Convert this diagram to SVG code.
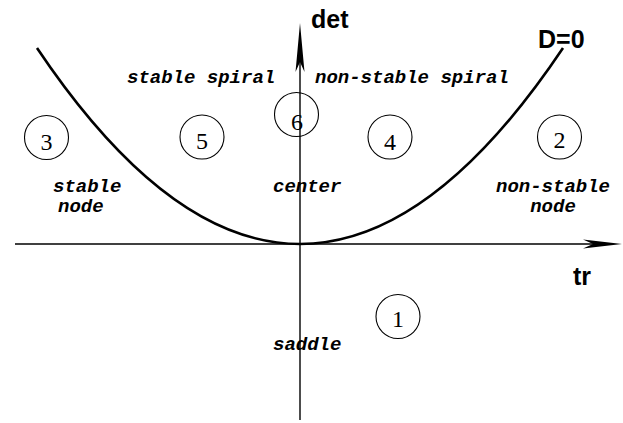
<svg xmlns="http://www.w3.org/2000/svg" width="623" height="423" viewBox="0 0 623 423">
<style>
.lbl{font-family:"Liberation Mono","Courier New",monospace;font-weight:bold;font-style:italic;font-size:19px;fill:#000}
.ax{font-family:"Liberation Sans",Arial,sans-serif;font-weight:bold;font-size:25px;fill:#000}
.num{font-family:"Liberation Serif","Times New Roman",serif;font-size:24px;fill:#000;text-anchor:middle}
.ring{fill:none;stroke:#000;stroke-width:1.1}
</style>
<rect width="623" height="423" fill="#fff"/>
<g id="connectors">
<path id="curve" d="M37,48 Q300,440 563,48" fill="none" stroke="#000" stroke-width="2.6"/>
<line id="tr-axis" x1="15" y1="244" x2="600" y2="244" stroke="#000" stroke-width="1.4"/>
<path d="M622,244 L583,239.5 L593,244 L583,248.5 Z" fill="#000"/>
<line id="det-axis" x1="300" y1="420" x2="300" y2="45" stroke="#000" stroke-width="1.4"/>
<path d="M300,23 L304.5,72 L300,62 L295.5,72 Z" fill="#000"/>
</g>
<g id="axis-labels">
<text class="ax" x="311" y="28">det</text>
<text class="ax" x="573" y="285">tr</text>
<text class="ax" x="538" y="48">D=0</text>
</g>
<g id="region-labels">
<text class="lbl" x="127" y="83">stable spiral</text>
<text class="lbl" x="315" y="83">non-stable spiral</text>
<text class="lbl" x="53" y="192">stable</text>
<text class="lbl" x="58" y="212">node</text>
<text class="lbl" x="273" y="192">center</text>
<text class="lbl" x="553" y="192" text-anchor="middle">non-stable</text>
<text class="lbl" x="553" y="212" text-anchor="middle">node</text>
<text class="lbl" x="273" y="350">saddle</text>
</g>
<g id="n1"><circle class="ring" cx="398" cy="316.5" r="22"/><text class="num" x="398" y="327">1</text></g>
<g id="n2"><circle class="ring" cx="559.5" cy="137" r="22"/><text class="num" x="559.5" y="148">2</text></g>
<g id="n3"><circle class="ring" cx="46.5" cy="137.5" r="22"/><text class="num" x="46.5" y="150">3</text></g>
<g id="n4"><circle class="ring" cx="390" cy="137" r="22"/><text class="num" x="390" y="150">4</text></g>
<g id="n5"><circle class="ring" cx="202" cy="137" r="22"/><text class="num" x="202" y="149">5</text></g>
<g id="n6"><circle class="ring" cx="296.5" cy="114.5" r="22"/><text class="num" x="297" y="130">6</text></g>
</svg>
